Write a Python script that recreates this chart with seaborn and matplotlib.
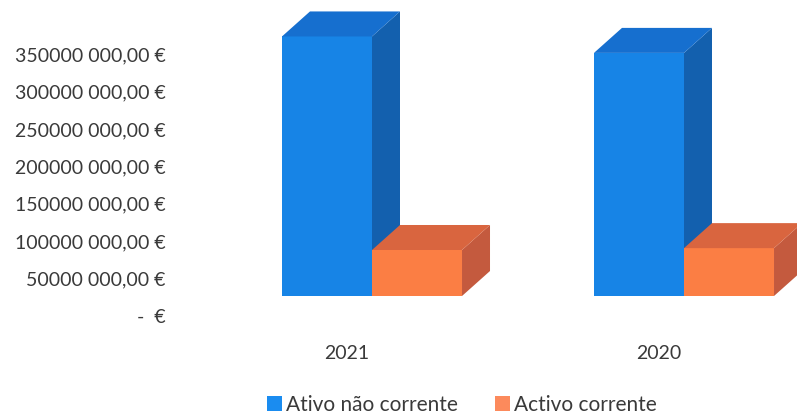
import matplotlib
matplotlib.use("Agg")
import matplotlib.pyplot as plt
import matplotlib.transforms as mtransforms
from matplotlib.patches import Polygon, Patch
import seaborn as sns
import pandas as pd

# ---- data ----
years = ["2021", "2020"]
series = ["Ativo não corrente", "Activo corrente"]
ativo_nao_corrente = [347_000_000, 325_000_000]
activo_corrente = [61_500_000, 64_000_000]
y_ticks = [0, 50e6, 100e6, 150e6, 200e6, 250e6, 300e6, 350e6]
y_tick_labels = ["-  €", "50000 000,00 €", "100000 000,00 €", "150000 000,00 €",
                 "200000 000,00 €", "250000 000,00 €", "300000 000,00 €", "350000 000,00 €"]

front_colors = ["#1784e6", "#fb7e44"]
top_colors = ["#166fcf", "#d9653f"]
side_colors = ["#1360ae", "#c45a3e"]
legend_colors = ["#1a8cf0", "#fc8a5c"]

df = pd.DataFrame({
    "year": years * 2,
    "serie": [series[0]] * 2 + [series[1]] * 2,
    "value": ativo_nao_corrente + activo_corrente,
})

sns.set_theme(style="white")
plt.rcParams["font.family"] = ["Lato", "DejaVu Sans"]

W, H = 797, 418
fig = plt.figure(figsize=(W / 100, H / 100), dpi=100)

ax_left_px, ax_right_px = 175, 797
ax_top_px, ax_bottom_px = 0, 296
ax = fig.add_axes([ax_left_px / W, 1 - ax_bottom_px / H,
                   (ax_right_px - ax_left_px) / W, (ax_bottom_px - ax_top_px) / H])

sns.barplot(data=df, x="year", y="value", hue="serie", order=years, hue_order=series,
            palette=front_colors, saturation=1, width=0.577, ax=ax, legend=True)

px_per_cat = 312.0
px_per_val = 0.748 / 1e6
ax.set_xlim(-(372 - ax_left_px) / px_per_cat, (ax_right_px - 372) / px_per_cat)
ax.set_ylim(0, (ax_bottom_px - ax_top_px) / px_per_val)

dx = 28 / px_per_cat
dy = 25 / px_per_val

for i, container in enumerate(ax.containers):
    z = 2 + i
    for bar in container:
        x0 = bar.get_x()
        w = bar.get_width()
        h = bar.get_height()
        bar.set_zorder(z)
        bar.set_edgecolor("none")
        bar.set_clip_on(False)
        top = Polygon([(x0, h), (x0 + w, h), (x0 + w + dx, h + dy), (x0 + dx, h + dy)],
                      closed=True, facecolor=top_colors[i], edgecolor="none",
                      zorder=z, clip_on=False)
        side = Polygon([(x0 + w, 0), (x0 + w + dx, dy), (x0 + w + dx, h + dy), (x0 + w, h)],
                       closed=True, facecolor=side_colors[i], edgecolor="none",
                       zorder=z, clip_on=False)
        ax.add_patch(side)
        ax.add_patch(top)

text_color = "#3a3a3a"
ax.set_yticks(y_ticks)
ax.set_yticklabels(y_tick_labels)
ax.set_xlabel("")
ax.set_ylabel("")
for s in ax.spines.values():
    s.set_visible(False)
ax.grid(False)
ax.tick_params(axis="y", length=0, pad=7, labelsize=14, labelcolor=text_color)
ax.tick_params(axis="x", length=0, pad=35, labelsize=14, labelcolor=text_color)

yoff = mtransforms.ScaledTranslation(0, -20 / 100, fig.dpi_scale_trans)
for lab in ax.get_yticklabels():
    lab.set_transform(lab.get_transform() + yoff)
xoff = mtransforms.ScaledTranslation(-25 / 100, 0, fig.dpi_scale_trans)
for lab in ax.get_xticklabels():
    lab.set_transform(lab.get_transform() + xoff)

leg = ax.get_legend()
if leg is not None:
    leg.remove()
handles = [Patch(facecolor=c, edgecolor="none") for c in legend_colors]
fig.legend(handles, series, loc="center", bbox_to_anchor=(462 / W, 1 - 405 / H),
           ncol=2, frameon=False, handlelength=0.7, handleheight=0.7,
           handletextpad=0.2, columnspacing=1.8, fontsize=15, labelcolor=text_color,
           borderpad=0, borderaxespad=0)

fig.savefig("out.png", dpi=100)
